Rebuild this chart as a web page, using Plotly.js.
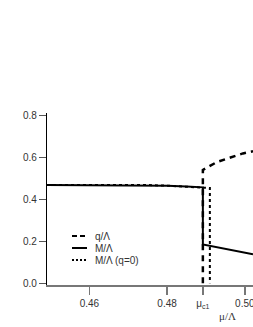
<!DOCTYPE html>
<html><head><meta charset="utf-8">
<script src="https://cdn.plot.ly/plotly-3.0.1.min.js"></script>
<style>html,body{margin:0;padding:0;background:#fff}#c{width:253px;height:327px}</style>
</head><body><div id="c"></div>
<script>
// data
var muM = [0.4491, 0.455, 0.460, 0.465, 0.470, 0.475, 0.480, 0.485, 0.4892, 0.4892, 0.4928, 0.4962, 0.4995, 0.5021];
var M   = [0.469, 0.469, 0.469, 0.469, 0.469, 0.468, 0.466, 0.462, 0.458, 0.186, 0.172, 0.160, 0.149, 0.139];
var muM0 = [0.4491, 0.455, 0.460, 0.465, 0.470, 0.475, 0.480, 0.485, 0.4892, 0.4910, 0.4910];
var M0   = [0.469, 0.469, 0.469, 0.469, 0.470, 0.469, 0.466, 0.462, 0.458, 0.455, 0.0];
var muQ = [0.4892, 0.4892, 0.4928, 0.4962, 0.4995, 0.5021];
var Q   = [0.0, 0.541, 0.579, 0.598, 0.620, 0.630];
var xTickVals = [0.46, 0.48, 0.4892, 0.50];
var xTickText = ['0.46', '0.48', 'μ<sub>c1</sub>', '0.50'];
var yTickVals = [0.0, 0.2, 0.4, 0.6, 0.8];
var yTickText = ['0.0', '0.2', '0.4', '0.6', '0.8'];
var legendNames = ['q/Λ', 'M/Λ', 'M/Λ (q=0)'];

var traces = [
  {x: muM0, y: M0, mode: 'lines', line: {color: '#000', width: 2, dash: 'dot'}, showlegend: false, name: legendNames[2]},
  {x: muM, y: M, mode: 'lines', line: {color: '#000', width: 2}, showlegend: false, name: legendNames[1]},
  {x: muQ, y: Q, mode: 'lines', line: {color: '#000', width: 2.5, dash: '6px,5px'}, showlegend: false, name: legendNames[0]}
];

function px2x(px){return (px-47)/206;}
function py2y(py){return (285-py)/172;}
var rows = [236, 248, 260];
var dashes = ['5px,3px', 'solid', '2px,2px'];
var shapes = [], ann = [];
for (var i=0;i<3;i++){
  shapes.push({type:'line', xref:'paper', yref:'paper', x0:px2x(72), x1:px2x(87), y0:py2y(rows[i]), y1:py2y(rows[i]),
    line:{color:'#000', width:2, dash:dashes[i]}});
  ann.push({xref:'paper', yref:'paper', x:px2x(93), y:py2y(rows[i]), xanchor:'left', yanchor:'middle',
    text:legendNames[i], showarrow:false, font:{family:'Liberation Sans, Arial', size:10, color:'#333'}});
}
ann.push({xref:'paper', yref:'paper', x:px2x(227), y:py2y(316), xanchor:'center', yanchor:'middle',
  text:'μ/Λ', showarrow:false, font:{family:'Liberation Serif', size:11, color:'#333'}});

var layout = {
  width: 253, height: 327,
  margin: {l: 47, r: 0, t: 113, b: 42, pad: 0},
  paper_bgcolor: '#fff', plot_bgcolor: '#fff',
  showlegend: false,
  font: {family: 'Liberation Sans, Arial', size: 10, color: '#333'},
  xaxis: {range: [0.4491, 0.5021], tickvals: xTickVals, ticktext: xTickText, ticks: 'outside', ticklen: 8,
    tickcolor: '#777', tickwidth: 1.5, showline: true, linecolor: '#777', linewidth: 1.5, showgrid: false, zeroline: false,
    tickfont: {size: 10, color: '#333'}, ticklabeloverflow: 'allow', fixedrange: true},
  yaxis: {range: [-0.008, 0.813], tickvals: yTickVals, ticktext: yTickText, ticks: 'outside', ticklen: 7,
    tickcolor: '#555', tickwidth: 1.5, showline: true, linecolor: '#000', linewidth: 1.2, showgrid: false, zeroline: false,
    tickfont: {size: 10, color: '#333'}, fixedrange: true},
  shapes: shapes, annotations: ann
};
Plotly.newPlot('c', traces, layout, {displayModeBar: false, staticPlot: true});
</script></body></html>
